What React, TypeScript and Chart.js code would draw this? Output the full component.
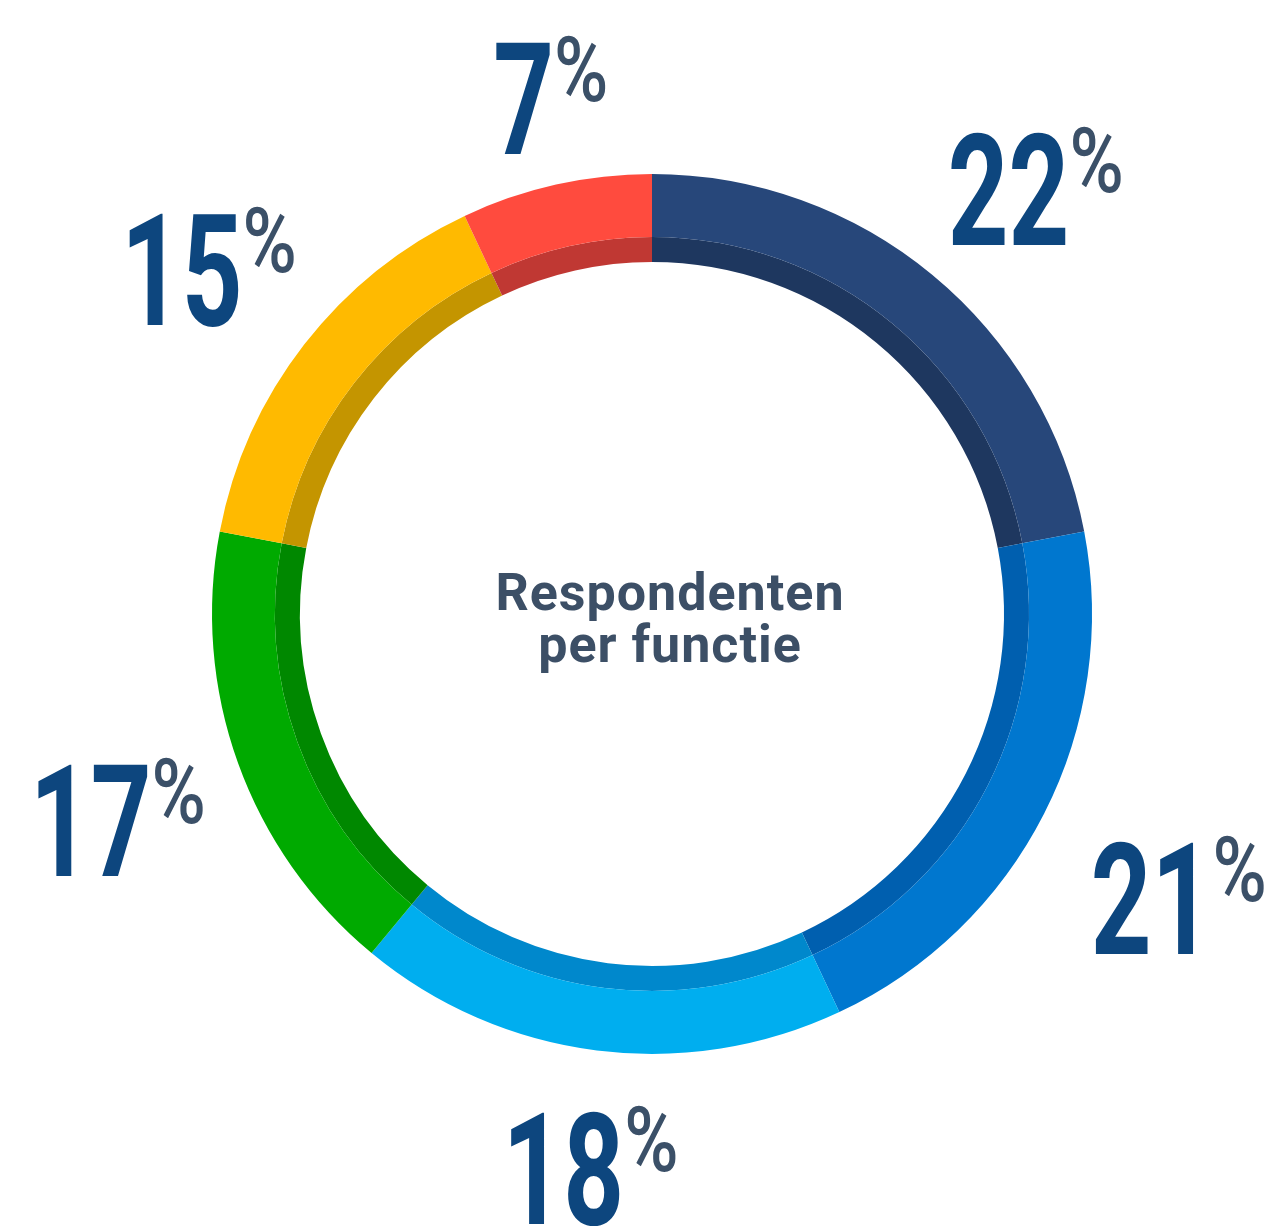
import React, { useEffect, useRef } from "react";
import { Chart, registerables } from "chart.js";

Chart.register(...registerables);

const categories = ["Functie A", "Functie B", "Functie C", "Functie D", "Functie E", "Functie F"];
const shares = [22, 21, 18, 17, 15, 7];
const ringColors = ["#27477A", "#0077CF", "#00AEEF", "#00AA00", "#FFBA00", "#FF4B3E"];
const shadeColors = ["#1E375F", "#005FAF", "#0088CC", "#008800", "#C49500", "#C03833"];
const centerLines = ["Respondenten", "per functie"];

const NUM_COLOR = "#0D467E";
const PCT_COLOR = "#3B5068";
const CENTER_COLOR = "#3C4F66";

const labelPlugin = {
  id: "pctLabels",
  afterDraw(chart: any) {
    const ctx: CanvasRenderingContext2D = chart.ctx;
    const meta = chart.getDatasetMeta(0);
    const numFont = "bold 156px Roboto";
    const pctFont = "500 90px Roboto";
    const numScale = 0.68;
    const pctScale = 0.82;
    const capH = 111;
    const ox = 12;
    const oy = 16;
    meta.data.forEach((arc: any, i: number) => {
      const { x, y, startAngle, endAngle, outerRadius } = arc.getProps(
        ["x", "y", "startAngle", "endAngle", "outerRadius"],
        true
      );
      const a = (startAngle + endAngle) / 2 + 0.01;
      const txt = String(shares[i]);
      ctx.save();
      ctx.font = numFont;
      const numW = ctx.measureText(txt).width * numScale;
      ctx.font = pctFont;
      const pctW = ctx.measureText("%").width * pctScale;
      ctx.restore();
      const gap = 0;
      const W = numW + gap + pctW;
      const H = capH;
      const support = Math.abs(Math.cos(a)) * (W / 2) + Math.abs(Math.sin(a)) * (H / 2);
      const r = outerRadius + 37 + support;
      const cx = x + ox + Math.cos(a) * r;
      const cy = y + oy + Math.sin(a) * r;
      const left = cx - W / 2;
      const base = cy + H / 2;
      ctx.save();
      ctx.textBaseline = "alphabetic";
      ctx.textAlign = "left";
      ctx.fillStyle = NUM_COLOR;
      ctx.font = numFont;
      ctx.translate(left, base);
      ctx.scale(numScale, 1);
      ctx.fillText(txt, 0, 0);
      ctx.restore();
      ctx.save();
      ctx.fillStyle = PCT_COLOR;
      ctx.font = pctFont;
      ctx.textBaseline = "alphabetic";
      ctx.translate(left + numW + gap, base - capH + 58);
      ctx.scale(pctScale, 1);
      ctx.fillText("%", 0, 0);
      ctx.restore();
    });
    // centre text
    const arc0 = meta.data[0];
    const cx = arc0.x + 18;
    const cy = arc0.y;
    ctx.save();
    ctx.fillStyle = CENTER_COLOR;
    ctx.font = "bold 52px Roboto";
    (ctx as any).letterSpacing = "1px";
    ctx.textAlign = "center";
    ctx.textBaseline = "alphabetic";
    ctx.fillText(centerLines[0], cx, cy - 4);
    ctx.fillText(centerLines[1], cx, cy + 48);
    ctx.restore();
  },
};

export default function App() {
  const ref = useRef<HTMLCanvasElement | null>(null);
  useEffect(() => {
    if (!ref.current) return;
    const chart = new Chart(ref.current, {
      type: "doughnut",
      data: {
        labels: categories,
        datasets: [
          { data: shares, backgroundColor: ringColors, borderWidth: 0, weight: 63 } as any,
          { data: shares, backgroundColor: shadeColors, borderWidth: 0, weight: 25 } as any,
        ],
      },
      options: {
        responsive: false,
        animation: false,
        cutout: "80%",
        events: [],
        layout: { padding: { left: 212, right: 174, top: 174, bottom: 174 } },
        plugins: { legend: { display: false }, tooltip: { enabled: false } },
      },
      plugins: [labelPlugin],
    });
    return () => chart.destroy();
  }, []);
  return (
    <div style={{ position: "absolute", left: 0, top: 0, width: 1266, height: 1228, background: "#fff" }}>
      <canvas ref={ref} width={1266} height={1228} style={{ width: 1266, height: 1228 }} />
    </div>
  );
}
